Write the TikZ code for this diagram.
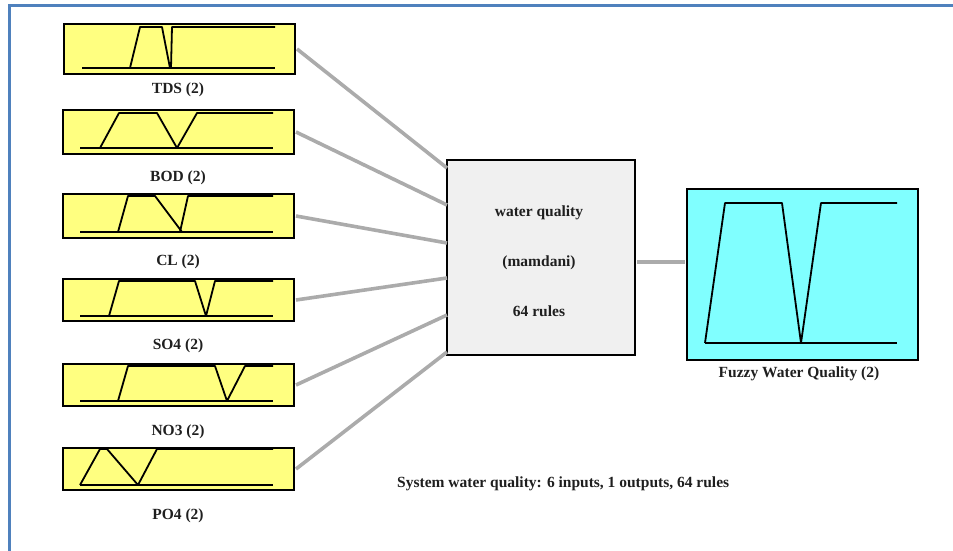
\documentclass[tikz,border=0pt]{standalone}
\usepackage{fontspec}
\setmainfont{Liberation Serif}
\begin{document}
\begin{tikzpicture}[x=1pt,y=-1pt,
  inbox/.style={draw=black,line width=2pt,fill=inyellow,minimum width=231pt,minimum height=44pt,inner sep=0pt,anchor=north west},
  mf/.style={line width=1.8pt,line join=round},
  conn/.style={draw=conngray,line width=3.6pt},
  lbl/.style={font=\fontsize{15.5}{17}\selectfont\bfseries,text=black!88,inner sep=0pt}]
\definecolor{inyellow}{HTML}{FFFF80}
\definecolor{outcyan}{HTML}{80FFFF}
\definecolor{centgray}{HTML}{F0F0F0}
\definecolor{conngray}{HTML}{ABABAB}
\definecolor{frameblue}{HTML}{4F81BD}
\useasboundingbox (0,0) rectangle (953,551);
% frame (top and left sides visible)
\draw[frameblue,line width=3pt] (9.5,551) -- (9.5,5.5) -- (953,5.5);
% input boxes
\node[inbox,minimum height=50pt] (tds) at (63,23) {};
\node[inbox] (bod) at (62,109) {};
\node[inbox] (cl) at (62,193) {};
\node[inbox,minimum height=42pt] (so4) at (62,278) {};
\node[inbox,minimum height=42pt] (no3) at (62,363) {};
\node[inbox,minimum height=42pt] (po4) at (62,447) {};
% labels
\node[lbl] (ltds) at (178,90) {TDS (2)};
\node[lbl] (lbod) at (178,178) {BOD (2)};
\node[lbl] (lcl) at (178,262) {CL (2)};
\node[lbl] (lso4) at (178,346) {SO4 (2)};
\node[lbl] (lno3) at (178,432) {NO3 (2)};
\node[lbl] (lpo4) at (178,516) {PO4 (2)};
% membership functions
\draw[mf] (82,68) -- (275,68);
\draw[mf] (130,68) -- (140,27) -- (162,27) -- (170,68);
\draw[mf] (171,68) -- (172,27) -- (275,27);
\draw[mf] (80,148) -- (273,148);
\draw[mf] (100,148) -- (119,113) -- (157,113) -- (177,148) -- (197,113) -- (273,113);
\draw[mf] (80,232) -- (273,232);
\draw[mf] (118,232) -- (128,196) -- (155,196) -- (182,232);
\draw[mf] (180,232) -- (188,196) -- (273,196);
\draw[mf] (80,316) -- (273,316);
\draw[mf] (109,316) -- (119,281) -- (195,281) -- (206,316) -- (215,281) -- (273,281);
\draw[mf] (80,401) -- (273,401);
\draw[mf] (118,401) -- (128,366) -- (215,366) -- (227,401) -- (245,366) -- (273,366);
\draw[mf] (80,485) -- (273,485);
\draw[mf] (80,485) -- (100,449) -- (107,449) -- (138,485) -- (157,449) -- (273,449);
% center box
\node[draw=black,line width=2pt,fill=centgray,minimum width=188pt,minimum height=195pt,inner sep=0pt,anchor=north west] (fis) at (446,159) {};
\node[lbl] (t1) at (539,213) {water quality};
\node[lbl] (t2) at (539,263) {(mamdani)};
\node[lbl] (t3) at (539,311) {64 rules};
% output box
\node[draw=black,line width=2pt,fill=outcyan,minimum width=231pt,minimum height=171pt,inner sep=0pt,anchor=north west] (out) at (686,188) {};
\draw[mf] (705,343) -- (897,343);
\draw[mf] (705,343) -- (725,203) -- (782,203) -- (801,343) -- (821,203) -- (897,203);
\node[lbl] (lout) at (799,374) {Fuzzy Water Quality (2)};
% connectors
\coordinate (e1) at (447,168);
\coordinate (e2) at (447,205);
\coordinate (e3) at (447,243);
\coordinate (e4) at (447,278);
\coordinate (e5) at (447,315);
\coordinate (e6) at (447,352);
\coordinate (h) at (660,262);
\draw[conn] ([xshift=1pt]tds.east) -- (e1);
\draw[conn] ([xshift=1pt]bod.east) -- (e2);
\draw[conn] ([xshift=1pt]cl.east) -- (e3);
\draw[conn] ([xshift=1pt]so4.east) -- (e4);
\draw[conn] ([xshift=1pt]no3.east) -- (e5);
\draw[conn] ([xshift=1pt]po4.east) -- (e6);
\draw[conn] ([xshift=1pt]fis.east |- h) -- ([xshift=-1pt]out.west |- h);
% summary text
\node[lbl,anchor=west] (sys) at (397,484) {System water quality: 6 inputs, 1 outputs, 64 rules};
\end{tikzpicture}
\end{document}
